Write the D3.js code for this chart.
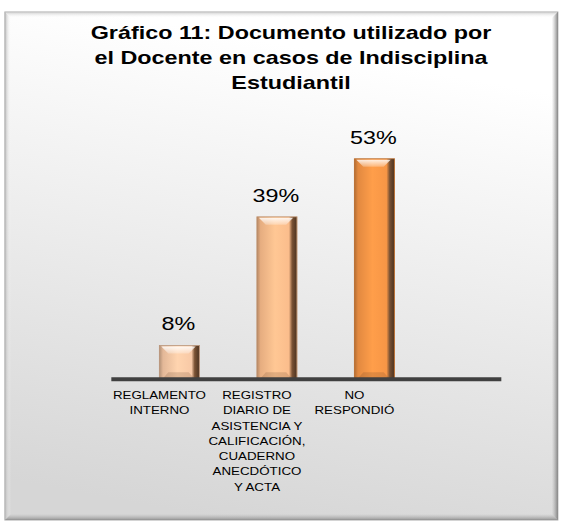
<!DOCTYPE html>
<html>
<head>
<meta charset="utf-8">
<script src="https://cdn.jsdelivr.net/npm/d3@7"></script>
<style>
  body { margin: 0; background: #fff; }
</style>
</head>
<body>
<div id="chart"></div>
<script>
// chart data
var titleLines = ["Gráfico 11: Documento utilizado por", "el Docente en casos de Indisciplina", "Estudiantil"];
var categories = ["REGLAMENTO INTERNO", "REGISTRO DIARIO DE ASISTENCIA Y CALIFICACIÓN, CUADERNO ANECDÓTICO Y ACTA", "NO RESPONDIÓ", ""];
var tickLines = [
    ["REGLAMENTO", "INTERNO"],
    ["REGISTRO", "DIARIO DE", "ASISTENCIA Y", "CALIFICACIÓN,", "CUADERNO", "ANECDÓTICO", "Y ACTA"],
    ["NO", "RESPONDIÓ"],
    []
];
var seriesNames = ["Serie1", "Serie2"];
var serie1 = [null, null, null, null];
var serie2 = [8, 39, 53, null];
var valueLabels = ["8%", "39%", "53%", ""];

// the picture is stretched sideways, so draw narrow and let the viewBox stretch it
var svgWidth = 566;
var svgHeight = 527;
var stretch = 1.25;
var vbWidth = svgWidth / stretch;

var barColors = ["#f8c9a6", "#fbbd8c", "#f79646"];

var svg = d3.select("#chart")
    .append("svg")
    .attr("width", svgWidth)
    .attr("height", svgHeight)
    .attr("viewBox", "0 0 " + vbWidth + " " + svgHeight)
    .attr("preserveAspectRatio", "none");

var defs = svg.append("defs");

// background gradient of the frame
var bg = defs.append("linearGradient").attr("id", "bg")
    .attr("x1", 0.6).attr("y1", 0).attr("x2", 0.4).attr("y2", 1);
bg.append("stop").attr("offset", 0.08).attr("stop-color", "#ffffff");
bg.append("stop").attr("offset", 1).attr("stop-color", "#d6d6d6");

var frame = { left: 4, top: 12, right: 446.2, bottom: 520 };
var bev = 6;

svg.append("rect")
    .attr("x", frame.left)
    .attr("y", frame.top)
    .attr("width", frame.right - frame.left)
    .attr("height", frame.bottom - frame.top)
    .attr("fill", "url(#bg)")
    .attr("stroke", "#a9a9a9")
    .attr("stroke-width", 1);

// frame bevel: light top/left, dark right/bottom
function bevelGrad(id, x1, y1, x2, y2, c1, o1, c2, o2) {
    var g = defs.append("linearGradient").attr("id", id)
        .attr("x1", x1).attr("y1", y1).attr("x2", x2).attr("y2", y2);
    g.append("stop").attr("offset", 0).attr("stop-color", c1).attr("stop-opacity", o1);
    g.append("stop").attr("offset", 1).attr("stop-color", c2).attr("stop-opacity", o2);
}
bevelGrad("fTop", 0, 0, 0, 1, "#c8c8c8", 0.9, "#ffffff", 0);
bevelGrad("fLeft", 0, 0, 1, 0, "#b8b8b8", 0.9, "#ffffff", 0);
bevelGrad("fRight", 1, 0, 0, 0, "#7c7c7c", 0.9, "#aaaaaa", 0);
bevelGrad("fBottom", 0, 1, 0, 0, "#8a8a8a", 0.85, "#aaaaaa", 0);

var bx = bev / stretch;
var fl = frame.left, ft = frame.top, fr = frame.right, fb = frame.bottom;
var framePolys = [
    { fill: "url(#fTop)", pts: [[fl, ft], [fr, ft], [fr - bx, ft + bev], [fl + bx, ft + bev]] },
    { fill: "url(#fLeft)", pts: [[fl, ft], [fl + bx, ft + bev], [fl + bx, fb - bev], [fl, fb]] },
    { fill: "url(#fRight)", pts: [[fr, ft], [fr, fb], [fr - bx, fb - bev], [fr - bx, ft + bev]] },
    { fill: "url(#fBottom)", pts: [[fl, fb], [fr, fb], [fr - bx, fb - bev], [fl + bx, fb - bev]] }
];
svg.selectAll(".fbevel")
    .data(framePolys)
    .enter()
    .append("polygon")
    .attr("class", "fbevel")
    .attr("points", function(d) { return d.pts.map(function(p) { return p.join(","); }).join(" "); })
    .attr("fill", function(d) { return d.fill; });

// title
svg.append("text")
    .attr("text-anchor", "middle")
    .style("font-family", "'Liberation Sans', Arial, sans-serif")
    .style("font-size", "18.67px")
    .style("font-weight", "bold")
    .attr("fill", "#000")
    .selectAll("tspan")
    .data(titleLines)
    .enter()
    .append("tspan")
    .attr("x", 291 / stretch)
    .attr("y", function(d, i) { return 39.5 + i * 24.7; })
    .text(function(d) { return d; });

// scales
var x = d3.scaleBand()
    .domain(categories)
    .range([110.7 / stretch, 500.7 / stretch])
    .paddingInner(0)
    .paddingOuter(0);

var barW = 40 / stretch;
var xSub = d3.scaleBand()
    .domain(seriesNames)
    .range([x.bandwidth() / 2 - barW, x.bandwidth() / 2 + barW]);

var y = d3.scaleLinear()
    .domain([0, 60])
    .range([378.7, 129.7]);

var rows = categories.map(function(c, i) {
    return { cat: c, i: i, values: [serie1[i], serie2[i]] };
});

// bar gradients
barColors.forEach(function(c, i) {
    var g = defs.append("linearGradient").attr("id", "bar" + i)
        .attr("x1", 0).attr("y1", 0).attr("x2", 1).attr("y2", 0);
    var base = d3.color(c);
    g.append("stop").attr("offset", 0).attr("stop-color", base.darker(0.9));
    g.append("stop").attr("offset", 0.09).attr("stop-color", base.darker(0.25));
    g.append("stop").attr("offset", 0.45).attr("stop-color", base.brighter(0.15));
    g.append("stop").attr("offset", 0.8).attr("stop-color", base);
    g.append("stop").attr("offset", 0.88).attr("stop-color", "#7a5234");
    g.append("stop").attr("offset", 1).attr("stop-color", "#4a3220");
});
bevelGrad("hiTop", 0, 0, 0, 1, "#ffffff", 0.85, "#ffffff", 0.25);

var bars = [];
rows.forEach(function(r) {
    r.values.forEach(function(v, s) {
        if (v == null) return;
        bars.push({ i: r.i, cat: r.cat, series: seriesNames[s], value: v, label: valueLabels[r.i] });
    });
});

var barG = svg.selectAll(".bar")
    .data(bars)
    .enter()
    .append("g")
    .attr("class", "bar");

barG.each(function(d) {
    var g = d3.select(this);
    var x0 = x(d.cat) + xSub(d.series);
    var x1 = x0 + xSub.bandwidth();
    var y0 = y(d.value);
    var y1 = y(0) + 1.5;
    var dy = Math.min(8, (y1 - y0) / 2.5);
    var dx = Math.min(7, dy) / stretch;
    var pts = function(a) { return a.map(function(p) { return p.join(","); }).join(" "); };

    g.append("rect")
        .attr("x", x0).attr("y", y0)
        .attr("width", x1 - x0).attr("height", y1 - y0)
        .attr("fill", "url(#bar" + d.i + ")");
    // top highlight
    g.append("polygon")
        .attr("points", pts([[x0 + 1.5, y0 + 1], [x1 - 3, y0 + 1], [x1 - 3 - dx, y0 + dy], [x0 + 1.5 + dx, y0 + dy]]))
        .attr("fill", "url(#hiTop)");
    // bottom shade
    g.append("polygon")
        .attr("points", pts([[x0 + 1.5, y1], [x1 - 3, y1], [x1 - 3 - dx, y1 - dy], [x0 + 1.5 + dx, y1 - dy]]))
        .attr("fill", "#5a3a20")
        .attr("fill-opacity", 0.18);
    // outline
    g.append("rect")
        .attr("x", x0).attr("y", y0)
        .attr("width", x1 - x0).attr("height", y1 - y0)
        .attr("fill", "none")
        .attr("stroke", d3.color(barColors[d.i]).darker(0.8))
        .attr("stroke-width", 0.8);
});

// value labels
svg.selectAll(".vlabel")
    .data(bars)
    .enter()
    .append("text")
    .attr("class", "vlabel")
    .attr("x", function(d) { return x(d.cat) + xSub(d.series) + xSub.bandwidth() / 2 - 1 / stretch; })
    .attr("y", function(d) { return y(d.value) - 15; })
    .attr("text-anchor", "middle")
    .style("font-family", "'Liberation Sans', Arial, sans-serif")
    .style("font-size", "18.67px")
    .attr("fill", "#000")
    .text(function(d) { return d.label; });

// category axis
var xAxis = svg.append("g")
    .attr("transform", "translate(0," + y(0) + ")")
    .call(d3.axisBottom(x).tickSize(0).tickSizeOuter(0).tickPadding(0));

xAxis.select(".domain")
    .attr("stroke", "#404040")
    .attr("stroke-width", 4);

xAxis.selectAll(".tick text").remove();
xAxis.selectAll(".tick")
    .append("text")
    .attr("text-anchor", "middle")
    .attr("fill", "#000")
    .style("font-family", "'Liberation Sans', Arial, sans-serif")
    .style("font-size", "10.67px")
    .selectAll("tspan")
    .data(function(d) { return tickLines[categories.indexOf(d)]; })
    .enter()
    .append("tspan")
    .attr("x", 0)
    .attr("y", function(d, i) { return 399 - 378.7 + i * 15.3; })
    .text(function(d) { return d; });
</script>
</body>
</html>
